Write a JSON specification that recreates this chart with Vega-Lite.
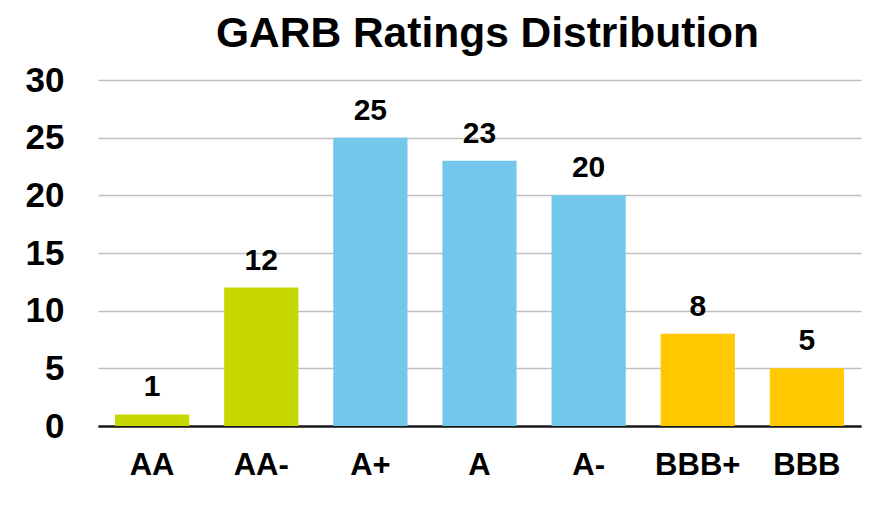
{
  "$schema": "https://vega.github.io/schema/vega-lite/v6.json",
  "width": 763,
  "height": 346,
  "autosize": {"type": "none"},
  "padding": {"left": 98, "top": 80, "right": 18, "bottom": 80},
  "background": "white",
  "title": {
    "text": "GARB Ratings Distribution",
    "font": "Liberation Sans",
    "fontSize": 42.5,
    "fontWeight": "bold",
    "color": "black",
    "anchor": "middle",
    "offset": 8,
    "dx": 8
  },
  "data": {
    "values": [
      {"rating": "AA", "count": 1, "tier": "AA"},
      {"rating": "AA-", "count": 12, "tier": "AA"},
      {"rating": "A+", "count": 25, "tier": "A"},
      {"rating": "A", "count": 23, "tier": "A"},
      {"rating": "A-", "count": 20, "tier": "A"},
      {"rating": "BBB+", "count": 8, "tier": "BBB"},
      {"rating": "BBB", "count": 5, "tier": "BBB"}
    ]
  },
  "encoding": {
    "x": {
      "field": "rating",
      "type": "nominal",
      "sort": null,
      "scale": {"paddingInner": 0.32, "paddingOuter": 0.156},
      "axis": {
        "title": null,
        "labelAngle": 0,
        "labelFont": "Liberation Sans",
        "labelFontSize": 31,
        "labelFontWeight": "bold",
        "labelColor": "black",
        "labelPadding": 24,
        "ticks": false,
        "domainColor": "#1a1a1a",
        "domainWidth": 2.5,
        "grid": false
      }
    },
    "y": {
      "field": "count",
      "type": "quantitative",
      "scale": {"domain": [0, 30], "nice": false},
      "axis": {
        "title": null,
        "values": [0, 5, 10, 15, 20, 25, 30],
        "labelFont": "Liberation Sans",
        "labelFontSize": 35,
        "labelFontWeight": "bold",
        "labelColor": "black",
        "labelPadding": 34,
        "ticks": false,
        "domain": false,
        "grid": true,
        "gridColor": "#c0c0c0",
        "gridWidth": 1.5
      }
    }
  },
  "layer": [
    {
      "mark": {"type": "bar"},
      "encoding": {
        "color": {
          "field": "tier",
          "type": "nominal",
          "scale": {"domain": ["AA", "A", "BBB"], "range": ["#c6d800", "#72c7ea", "#ffc800"]},
          "legend": null
        }
      }
    },
    {
      "mark": {
        "type": "text",
        "font": "Liberation Sans",
        "fontSize": 30,
        "fontWeight": "bold",
        "color": "black",
        "baseline": "alphabetic",
        "dy": -18
      },
      "encoding": {
        "text": {"field": "count", "type": "quantitative"}
      }
    }
  ],
  "config": {
    "view": {"stroke": null}
  }
}
